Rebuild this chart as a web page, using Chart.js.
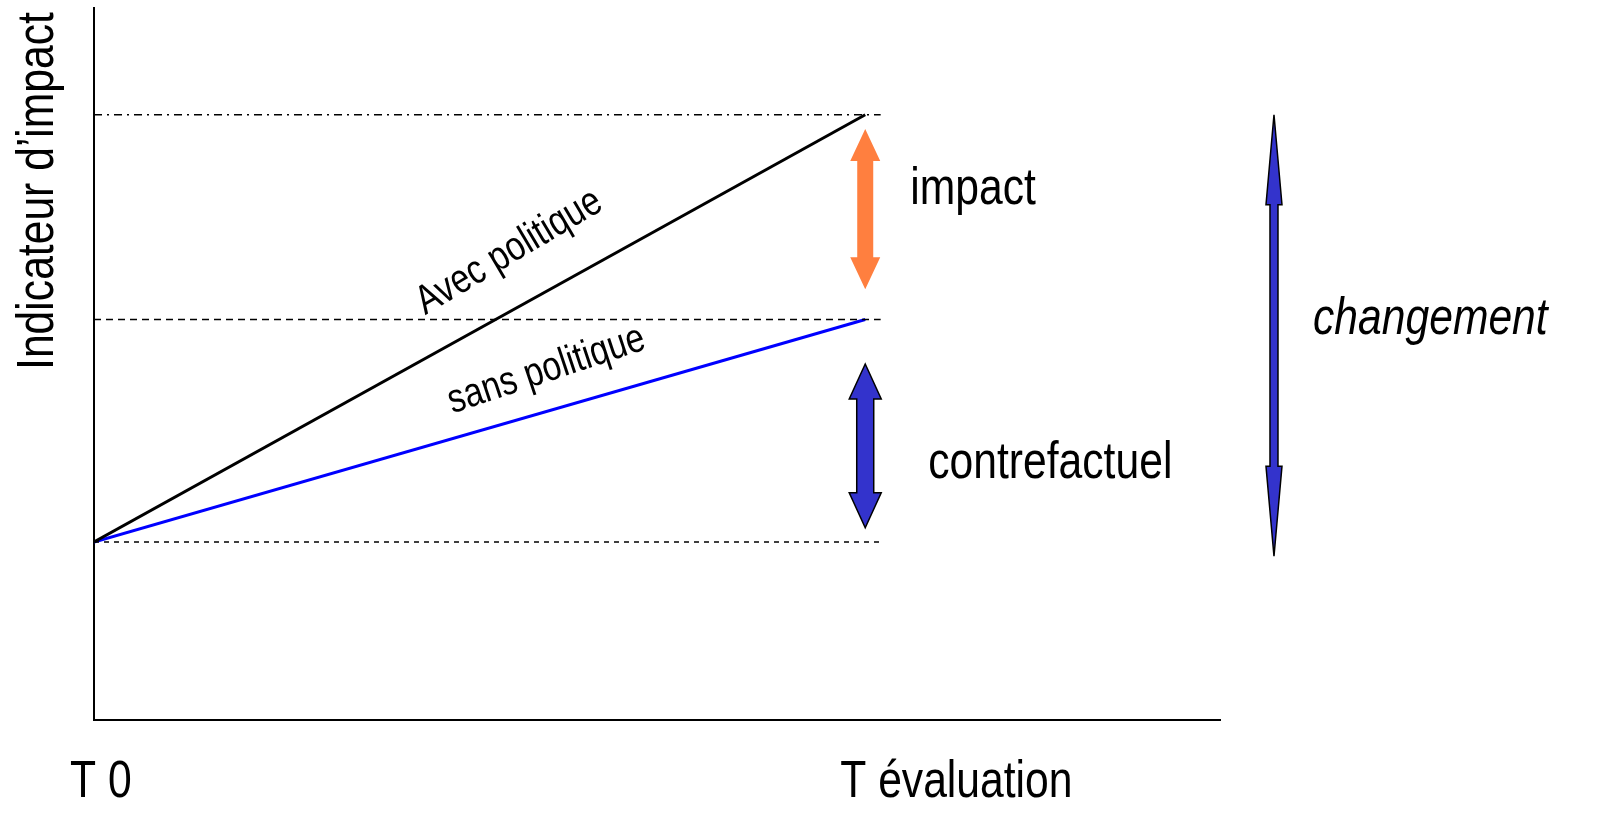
<!DOCTYPE html>
<html>
<head>
<meta charset="utf-8">
<script src="https://cdn.jsdelivr.net/npm/chart.js@4.4.1/dist/chart.umd.min.js"></script>
<style>
  html, body { margin: 0; padding: 0; background: #fff; }
  #wrap { width: 1598px; height: 818px; position: relative; }
</style>
</head>
<body>
<div id="wrap"><canvas id="impactChart"></canvas></div>
<script>
// temps : T 0 -> T évaluation
var temps = [0, 1];
var tickLabels = ["T 0", "T évaluation"];
var avecPolitique = [1.0, 3.4];
var sansPolitique = [1.0, 2.25];
// lignes de référence (niveau, fin en x)
var refNiveaux = [3.4, 2.25, 1.0];
var refFin = 1.02;
// flèches : [x, haut, bas]
var flecheImpact = [1.0, 3.32, 2.42];
var flecheContrefactuel = [1.0, 2.0, 1.08];
var flecheChangement = [1.53, 3.4, 0.92];

var FONT = "'Liberation Sans Narrow', 'Arial Narrow', monospace";
var narrowOk = (function() {
  var c = document.createElement('canvas').getContext('2d');
  c.font = "40px 'Liberation Sans Narrow', 'Arial Narrow', monospace";
  var a = c.measureText("impact politique").width;
  c.font = "40px monospace";
  var b = c.measureText("impact politique").width;
  return a !== b;
})();
if (!narrowOk) FONT = "'Liberation Sans', Arial, sans-serif";
var SX = narrowOk ? 1 : 0.82;

function texte(ctx, str, x, y, size, angle, align, italic) {
  ctx.save();
  ctx.translate(x, y);
  ctx.rotate(angle || 0);
  ctx.scale(SX, 1);
  ctx.font = (italic ? "italic " : "") + size + "px " + FONT;
  ctx.fillStyle = "#000";
  ctx.textAlign = align || "left";
  ctx.textBaseline = "alphabetic";
  ctx.fillText(str, 0, 0);
  ctx.restore();
}

function fleche(ctx, x, y1, y2, shaftW, headW, headL, fill, stroke) {
  var s = shaftW / 2, h = headW / 2;
  ctx.save();
  ctx.beginPath();
  ctx.moveTo(x, y1);
  ctx.lineTo(x + h, y1 + headL);
  ctx.lineTo(x + s, y1 + headL);
  ctx.lineTo(x + s, y2 - headL);
  ctx.lineTo(x + h, y2 - headL);
  ctx.lineTo(x, y2);
  ctx.lineTo(x - h, y2 - headL);
  ctx.lineTo(x - s, y2 - headL);
  ctx.lineTo(x - s, y1 + headL);
  ctx.lineTo(x - h, y1 + headL);
  ctx.closePath();
  ctx.fillStyle = fill;
  ctx.fill();
  if (stroke) {
    ctx.strokeStyle = stroke;
    ctx.lineWidth = 1.5;
    ctx.stroke();
  }
  ctx.restore();
}

var annotations = {
  id: 'annotations',
  afterDraw: function(chart) {
    var ctx = chart.ctx;
    var xs = chart.scales.x, ys = chart.scales.y;
    var x0 = xs.getPixelForValue(temps[0]);
    var x1 = xs.getPixelForValue(temps[1]);

    fleche(ctx, xs.getPixelForValue(flecheImpact[0]), ys.getPixelForValue(flecheImpact[1]),
      ys.getPixelForValue(flecheImpact[2]), 16, 30, 32, '#FF7F3F', null);
    fleche(ctx, xs.getPixelForValue(flecheContrefactuel[0]), ys.getPixelForValue(flecheContrefactuel[1]),
      ys.getPixelForValue(flecheContrefactuel[2]), 17, 32, 35, '#3333CC', '#000');
    fleche(ctx, xs.getPixelForValue(flecheChangement[0]), ys.getPixelForValue(flecheChangement[1]),
      ys.getPixelForValue(flecheChangement[2]), 8, 16, 90, '#3333CC', '#000');

    // textes
    texte(ctx, "impact", x1 + 45, ys.getPixelForValue(flecheImpact[1]) + 75, 52);
    texte(ctx, "contrefactuel", x1 + 63, ys.getPixelForValue(flecheContrefactuel[2]) - 50, 52);
    texte(ctx, "changement", xs.getPixelForValue(flecheChangement[0]) + 39, 334, 52, 0, "left", true);

    var aA = Math.atan2(ys.getPixelForValue(avecPolitique[0]) - ys.getPixelForValue(avecPolitique[1]), x1 - x0);
    var aS = Math.atan2(ys.getPixelForValue(sansPolitique[0]) - ys.getPixelForValue(sansPolitique[1]), x1 - x0);
    texte(ctx, "Avec politique", 515, 262, 41, -aA - 0.03, "center");
    texte(ctx, "sans politique", 550, 381, 41, -aS - 0.04, "center");

    // titre axe y
    texte(ctx, "Indicateur d\u2019impact", 53, 191, 52, -Math.PI / 2, "center");

    // étiquettes axe x
    texte(ctx, tickLabels[0], x0 - 24, 797, 52);
    texte(ctx, tickLabels[1], x1 - 25, 797, 52);
  }
};

function ref(niv, dash) {
  return {
    data: [{ x: temps[0], y: niv }, { x: refFin, y: niv }],
    borderColor: '#000',
    borderWidth: 1.5,
    borderDash: dash,
    pointRadius: 0,
    fill: false
  };
}

var ctx = document.getElementById('impactChart').getContext('2d');
var myChart = new Chart(ctx, {
  type: 'line',
  data: {
    datasets: [
      ref(refNiveaux[0], [8, 5, 2, 5]),
      ref(refNiveaux[1], [7, 5]),
      ref(refNiveaux[2], [5, 5]),
      {
        label: "Avec politique",
        data: temps.map(function(t, i) { return { x: t, y: avecPolitique[i] }; }),
        borderColor: '#000',
        borderWidth: 3,
        pointRadius: 0,
        fill: false
      },
      {
        label: "sans politique",
        data: temps.map(function(t, i) { return { x: t, y: sansPolitique[i] }; }),
        borderColor: '#0000FF',
        borderWidth: 3,
        pointRadius: 0,
        fill: false
      }
    ]
  },
  options: {
    responsive: true,
    maintainAspectRatio: false,
    animation: false,
    layout: { padding: { left: 94, top: 8, right: 378, bottom: 98 } },
    plugins: { legend: { display: false }, tooltip: { enabled: false } },
    scales: {
      x: {
        type: 'linear',
        min: 0,
        max: 1.46,
        grid: { display: false, drawTicks: false },
        border: { display: true, color: '#000', width: 2 },
        ticks: { display: false }
      },
      y: {
        min: 0,
        max: 4,
        grid: { display: false, drawTicks: false },
        border: { display: true, color: '#000', width: 2 },
        ticks: { display: false }
      }
    }
  },
  plugins: [annotations]
});
</script>
</body>
</html>
